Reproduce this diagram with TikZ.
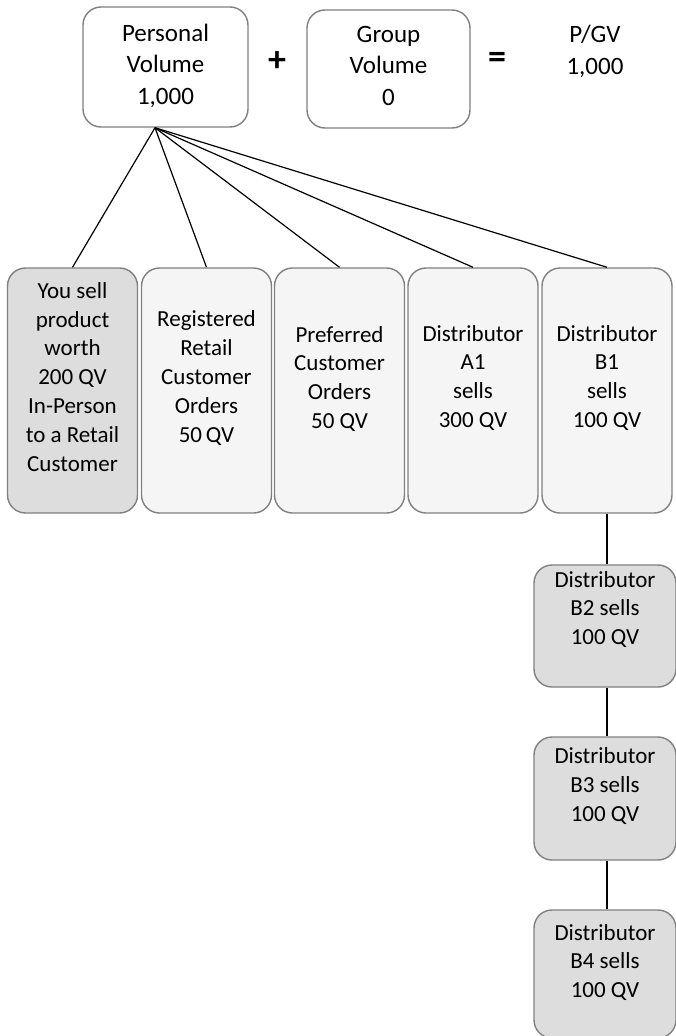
\documentclass[tikz,border=0pt]{standalone}
\usepackage{fontspec}
\setmainfont{Carlito}
\definecolor{lightbox}{RGB}{245,245,245}
\definecolor{darkbox}{RGB}{221,221,221}
\definecolor{edge}{RGB}{128,128,128}
\begin{document}
\begin{tikzpicture}[x=1pt,y=-1pt,
  box/.style={draw=edge,line width=1.4pt,rounded corners=18pt,inner sep=0pt},
  topbox/.style={box,fill=white,minimum height=120pt},
  lbox/.style={box,fill=lightbox,minimum width=130pt,minimum height=245pt},
  dbox/.style={box,fill=darkbox,minimum width=142pt},
  txt/.style={align=center,inner sep=0pt,anchor=base,font=\fontsize{23}{28.8}\selectfont},
  toptxt/.style={txt,font=\fontsize{25}{31.5}\selectfont},
  sym/.style={inner sep=0pt,font=\fontsize{36}{40}\selectfont\bfseries}]
\useasboundingbox (0,0) rectangle (675,1036);
\def\ry{390.5};
\def\bx{605};

\node[topbox,minimum width=165pt] (PV) at (165.5,67) {};
\node[topbox,minimum width=163pt,minimum height=118pt] (GV) at (388.5,69) {};
\node[toptxt] (tPV) at (PV.center |- 0,104) {Personal\\Volume\\1,000};
\node[toptxt] (tGV) at (GV.center |- 0,105) {Group\\Volume\\0};
\node[sym] (plus) at (277,62) {+};
\node[sym] (eq) at (497,60) {=};
\node[toptxt] (PGV) at (595,74) {P/GV\\1,000};

\node[lbox,fill=darkbox] (R1) at (72.5,\ry) {};
\node[lbox] (R2) at (206.5,\ry) {};
\node[lbox] (R3) at (339.5,\ry) {};
\node[lbox] (R4) at (473,\ry) {};
\node[lbox] (R5) at (607,\ry) {};

\node[txt] (t1) at (R1.center |- 0,471) {You sell\\product\\worth\\200 QV\\In-Person\\to a Retail\\Customer};
\node[txt] (t2) at (R2.center |- 0,442) {Registered\\Retail\\Customer\\Orders\\50\,QV};
\node[txt] (t3) at (R3.center |- 0,428.4) {Preferred\\Customer\\Orders\\50 QV};
\node[txt] (t4) at (R4.center |- 0,427.4) {Distributor\\A1\\sells\\300 QV};
\node[txt] (t5) at (R5.center |- 0,427.4) {Distributor\\B1\\sells\\100 QV};

\node[dbox,minimum height=122pt] (B2) at (\bx,626) {};
\node[dbox,minimum height=123pt] (B3) at (\bx,798.5) {};
\node[dbox,minimum height=128pt] (B4) at (\bx,974) {};
\node[txt] (tB2) at (B2.center |- 0,644.6) {Distributor\\B2 sells\\100 QV};
\node[txt] (tB3) at (B3.center |- 0,821) {Distributor\\B3 sells\\100 QV};
\node[txt] (tB4) at (B4.center |- 0,997.6) {Distributor\\B4 sells\\100 QV};

\coordinate (hub) at ([xshift=-10.5pt]PV.south);
\foreach \r in {R1,R2,R3,R4,R5}
  \draw[line width=1.2pt] (hub) -- (\r.north);
\draw[line width=1.2pt] (R5.south) -- (R5.south |- B2.north);
\draw[line width=1.2pt] (R5.south |- B2.south) -- (R5.south |- B3.north);
\draw[line width=1.2pt] (R5.south |- B3.south) -- (R5.south |- B4.north);
\end{tikzpicture}
\end{document}
